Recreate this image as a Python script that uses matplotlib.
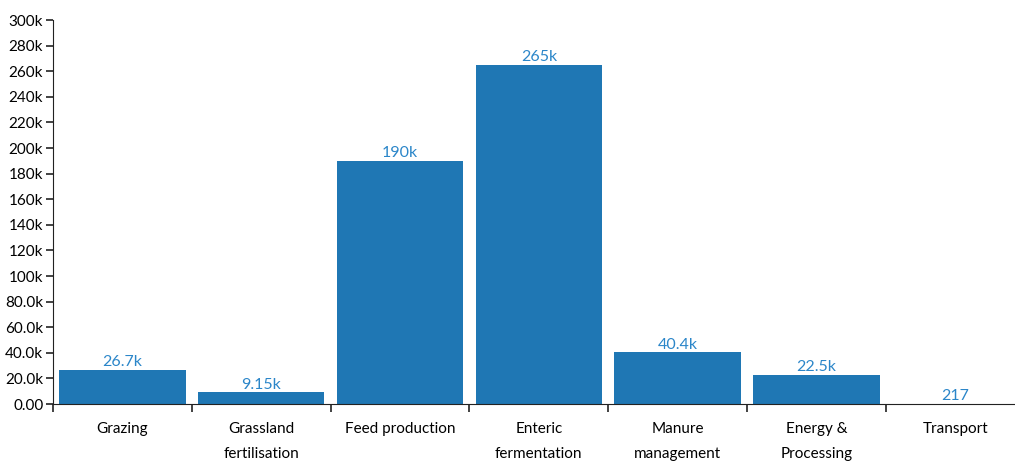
import numpy as np
import matplotlib.pyplot as plt

categories = ["Grazing", "Grassland\nfertilisation", "Feed production", "Enteric\nfermentation",
              "Manure\nmanagement", "Energy &\nProcessing", "Transport"]
values = [26700, 9150, 190000, 265000, 40400, 22500, 217]
value_labels = ["26.7k", "9.15k", "190k", "265k", "40.4k", "22.5k", "217"]
yticks = np.arange(0, 300001, 20000)
ytick_labels = ["0.00", "20.0k", "40.0k", "60.0k", "80.0k", "100k", "120k", "140k", "160k",
                "180k", "200k", "220k", "240k", "260k", "280k", "300k"]

plt.rcParams['font.family'] = ['Lato', 'DejaVu Sans']

fig = plt.figure(figsize=(10.15, 4.61), dpi=100)
ax = fig.add_axes([53 / 1015, 1 - 404 / 461, 7 * 138.8 / 1015, 384 / 461])

x = np.arange(len(categories))
bars = ax.bar(x, values, width=0.91, color='#1f77b4')
for xi, v, lab in zip(x, values, value_labels):
    ax.text(xi, v + 600, lab, ha='center', va='bottom', color='#2b86c9', fontsize=11.5)

ax.set_xlim(-0.5, len(categories) - 0.5)
ax.set_ylim(0, 300000)
ax.set_yticks(yticks)
ax.set_yticklabels(ytick_labels, fontsize=11)
ax.set_xticks(x)
ax.set_xticklabels(categories, fontsize=11, linespacing=2.0, va='top')
ax.set_xticks(np.arange(len(categories)) - 0.5, minor=True)
ax.tick_params(axis='x', which='major', length=0, pad=13)
ax.tick_params(axis='x', which='minor', length=6, width=1.2, color='#222222')
ax.tick_params(axis='y', length=5, width=1.2, color='#222222', pad=2)

for s in ['top', 'right']:
    ax.spines[s].set_visible(False)
ax.spines['left'].set_color('#222222')
ax.spines['bottom'].set_color('#222222')

fig.savefig('out.png', dpi=100)
